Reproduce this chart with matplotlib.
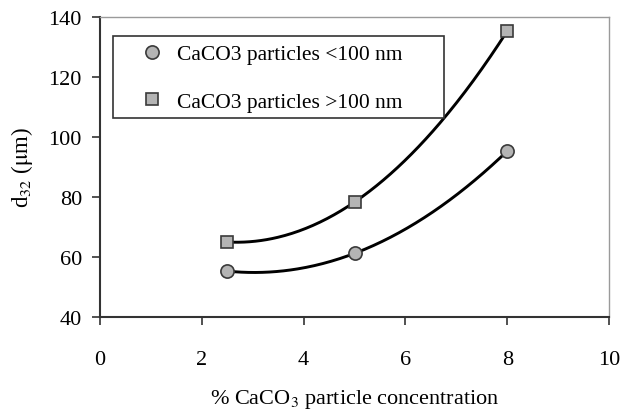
import numpy as np
import matplotlib
matplotlib.use("Agg")
import matplotlib.pyplot as plt
from matplotlib.patches import Rectangle

# CaCO3 concentration (%) and Sauter mean diameter d32 (um)
conc = [2.5, 5.0, 8.0]
d32_small = [55.3, 61.2, 95.3]   # particles < 100 nm
d32_large = [65.0, 78.3, 135.3]  # particles > 100 nm
labels = ["CaCO3 particles <100 nm", "CaCO3 particles >100 nm"]
xticks = [0, 2, 4, 6, 8, 10]
yticks = [40, 60, 80, 100, 120, 140]

plt.rcParams["font.family"] = ["Liberation Serif", "DejaVu Serif"]
plt.rcParams["mathtext.fontset"] = "stix"

W, H = 622, 410
fig = plt.figure(figsize=(W / 100, H / 100), dpi=100)
ax_l, ax_r, ax_t, ax_b = 100, 609, 18, 318
ax = fig.add_axes([ax_l / W, 1 - ax_b / H, (ax_r - ax_l) / W, (ax_b - ax_t) / H])

face = "#b4b4b4"
edge = "#3a3a3a"

for ys, mk, ms, lab in [(d32_small, "o", 9.5, labels[0]),
                        (d32_large, "s", 8.2, labels[1])]:
    coef = np.polyfit(conc, ys, 2)
    xx = np.linspace(conc[0], conc[-1], 200)
    ax.plot(xx, np.polyval(coef, xx), color="black", lw=2.1, zorder=2)
    ax.plot(conc, ys, linestyle="none", marker=mk, ms=ms, mfc=face,
            mec=edge, mew=1.2, zorder=3, label=lab)

ax.set_xlim(0, 10)
ax.set_ylim(40, 140)
ax.set_xticks(xticks)
ax.set_yticks(yticks)
ax.tick_params(labelsize=16, length=6, width=1.2, color="#333333", pad=7)
ax.tick_params(axis="x", pad=18)

for side in ("left", "bottom"):
    ax.spines[side].set_linewidth(1.5)
    ax.spines[side].set_color("#333333")
for side in ("top", "right"):
    ax.spines[side].set_linewidth(1.0)
    ax.spines[side].set_color("#9a9a9a")

ax.set_ylabel(r"d$_{32}$ ($\mathrm{\mu}$m)", fontsize=16.5, labelpad=10)
ax.set_xlabel(r"% CaCO$_3$ particle concentration", fontsize=16,
              labelpad=13)


def axfrac(px, py):
    return ((px - ax_l) / (ax_r - ax_l), (ax_b - py) / (ax_b - ax_t))


# legend frame
x0, y0 = axfrac(113, 119)
x1, y1 = axfrac(444, 37)
ax.add_patch(Rectangle((x0, y0), x1 - x0, y1 - y0, transform=ax.transAxes,
                       fill=True, facecolor="white", edgecolor="#333333",
                       lw=1.2, zorder=4))

lx, ly = axfrac(141, 45)
leg = ax.legend(loc="upper left", bbox_to_anchor=(lx, ly), frameon=False,
                fontsize=15.5, borderpad=0, labelspacing=1.28,
                handletextpad=0.65, handlelength=1.0, borderaxespad=0)
leg.set_zorder(5)

fig.savefig("out.png", dpi=100)
